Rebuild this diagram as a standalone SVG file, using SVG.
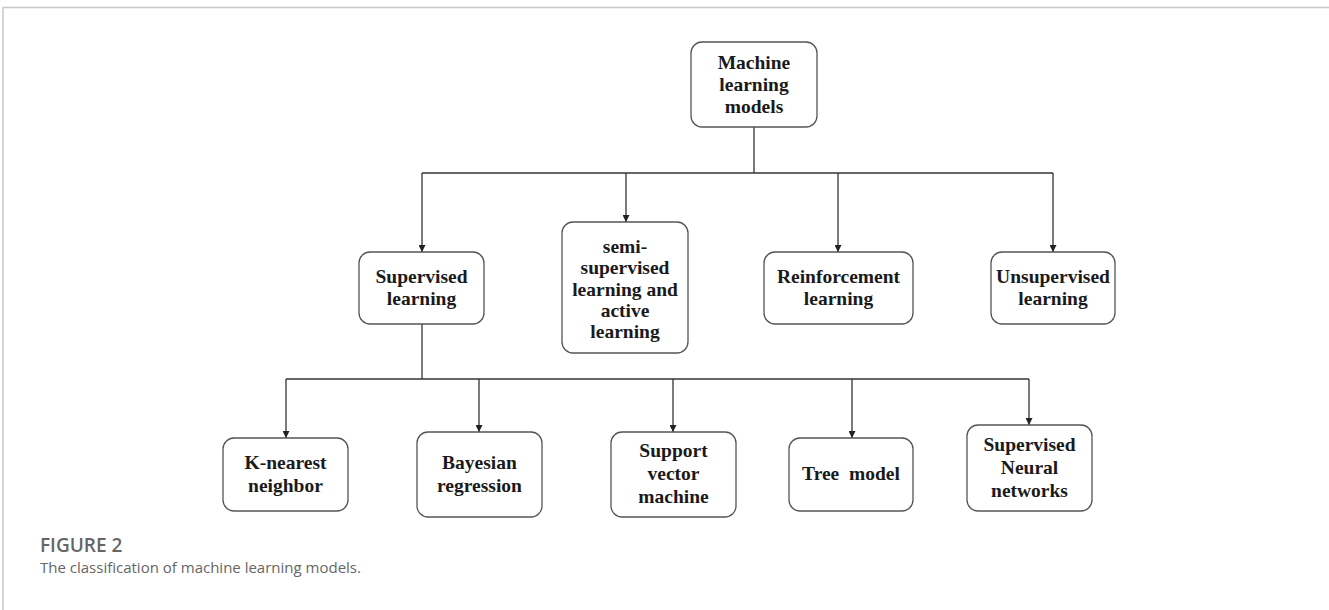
<svg xmlns="http://www.w3.org/2000/svg" width="1329" height="610" viewBox="0 0 1329 610">
<style>
.box{fill:#fff;stroke:#555;stroke-width:1.3}
.t{font-family:"Liberation Serif","Times New Roman",serif;font-weight:bold;font-size:19.5px;fill:#1a1a1a;text-anchor:middle}
.c{stroke:#333;stroke-width:1.3;fill:none}
.cap{font-family:"Open Sans","Noto Sans",sans-serif;fill:#666}
</style>
<defs>
<marker id="ah" viewBox="0 0 10 10" refX="10" refY="5" markerWidth="7" markerHeight="7" markerUnits="userSpaceOnUse" orient="auto">
<path d="M0,0 L10,5 L0,10 z" fill="#222"/>
</marker>
</defs>
<rect width="1329" height="610" fill="#fff"/>
<path d="M3,610 V7.5 H1329" stroke="#c8c8c8" stroke-width="1.5" fill="none"/>
<g id="connectors">
<path class="c" d="M754,127 V173"/>
<path class="c" d="M422,173 H1053"/>
<path class="c" d="M422,173 V252" marker-end="url(#ah)"/>
<path class="c" d="M626,173 V222" marker-end="url(#ah)"/>
<path class="c" d="M838,173 V252" marker-end="url(#ah)"/>
<path class="c" d="M1053,173 V252" marker-end="url(#ah)"/>
<path class="c" d="M422,324 V379"/>
<path class="c" d="M286,379 H1029"/>
<path class="c" d="M286,379 V438" marker-end="url(#ah)"/>
<path class="c" d="M479,379 V432" marker-end="url(#ah)"/>
<path class="c" d="M673,379 V432" marker-end="url(#ah)"/>
<path class="c" d="M852,379 V438" marker-end="url(#ah)"/>
<path class="c" d="M1029,379 V425" marker-end="url(#ah)"/>
</g>
<g id="n-ml"><rect class="box" x="691" y="42" width="126" height="85" rx="11"/>
<text class="t" x="754" y="69">Machine</text><text class="t" x="754" y="91">learning</text><text class="t" x="754" y="113">models</text></g>
<g id="n-sup"><rect class="box" x="359" y="252" width="125" height="72" rx="11"/>
<text class="t" x="421.5" y="283">Supervised</text><text class="t" x="421.5" y="305">learning</text></g>
<g id="n-semi"><rect class="box" x="562" y="222" width="126" height="131" rx="11"/>
<text class="t" x="625" y="253">semi-</text><text class="t" x="625" y="274">supervised</text><text class="t" x="625" y="296">learning and</text><text class="t" x="625" y="317">active</text><text class="t" x="625" y="338">learning</text></g>
<g id="n-rein"><rect class="box" x="764" y="252" width="149" height="72" rx="11"/>
<text class="t" x="838.5" y="283">Reinforcement</text><text class="t" x="838.5" y="305">learning</text></g>
<g id="n-unsup"><rect class="box" x="991" y="252" width="124" height="72" rx="11"/>
<text class="t" x="1053" y="283">Unsupervised</text><text class="t" x="1053" y="305">learning</text></g>
<g id="n-knn"><rect class="box" x="223" y="438" width="125" height="73" rx="11"/>
<text class="t" x="285.5" y="469">K-nearest</text><text class="t" x="285.5" y="492">neighbor</text></g>
<g id="n-bay"><rect class="box" x="417" y="432" width="125" height="85" rx="11"/>
<text class="t" x="479.5" y="469">Bayesian</text><text class="t" x="479.5" y="492">regression</text></g>
<g id="n-svm"><rect class="box" x="611" y="432" width="125" height="85" rx="11"/>
<text class="t" x="673.5" y="457">Support</text><text class="t" x="673.5" y="480">vector</text><text class="t" x="673.5" y="503">machine</text></g>
<g id="n-tree"><rect class="box" x="789" y="438" width="124" height="73" rx="11"/>
<text class="t" x="851" y="480" xml:space="preserve">Tree  model</text></g>
<g id="n-snn"><rect class="box" x="967" y="425" width="125" height="86" rx="11"/>
<text class="t" x="1029.5" y="451">Supervised</text><text class="t" x="1029.5" y="474">Neural</text><text class="t" x="1029.5" y="497">networks</text></g>
<g id="caption">
<text class="cap" x="40" y="552" font-size="19" font-weight="600">FIGURE 2</text>
<text class="cap" x="40" y="573" font-size="15">The classification of machine learning models.</text>
</g>
</svg>
